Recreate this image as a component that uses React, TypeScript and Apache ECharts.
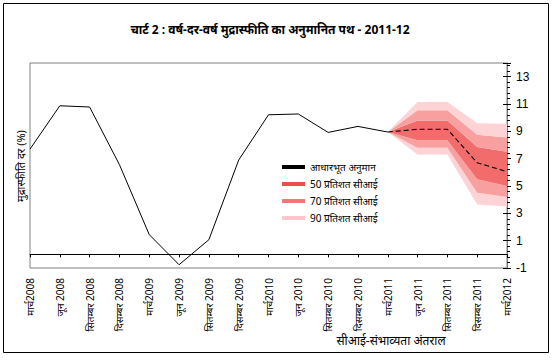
import React, { useEffect, useRef } from "react";
import * as echarts from "echarts";

const categories = [
  "मार्च2008", "जून 2008", "सितम्बर 2008", "दिसम्बर 2008",
  "मार्च2009", "जून 2009", "सितम्बर 2009", "दिसम्बर 2009",
  "मार्च2010", "जून 2010", "सितम्बर 2010", "दिसम्बर 2010",
  "मार्च2011", "जून 2011", "सितम्बर 2011", "दिसम्बर 2011", "मार्च2012",
];

const actual: (number | string)[] = [7.7, 10.87, 10.78, 6.56, 1.44, -0.76, 1.07, 6.9, 10.21, 10.27, 8.92, 9.36, 8.95, "-", "-", "-", "-"];
const baseline: (number | string)[] = ["-", "-", "-", "-", "-", "-", "-", "-", "-", "-", "-", "-", 8.95, 9.15, 9.15, 6.7, 6.05];

// fan chart bounds from Mar 2011 (index 12) to Mar 2012
const ci90Low = [8.95, 7.3, 7.3, 3.65, 3.5];
const ci70Low = [8.95, 7.8, 7.8, 4.5, 4.2];
const ci50Low = [8.95, 8.35, 8.35, 5.5, 5.0];
const ci50High = [8.95, 9.8, 9.8, 7.85, 7.5];
const ci70High = [8.95, 10.55, 10.55, 8.75, 8.55];
const ci90High = [8.95, 11.15, 11.15, 9.6, 9.55];

const yTicks = [-1, 1, 3, 5, 7, 9, 11, 13];

const FAN_START = 12;

const NAME_BASE = "आधारभूत अनुमान";
const NAME_50 = "50 प्रतिशत सीआई";
const NAME_70 = "70 प्रतिशत सीआई";
const NAME_90 = "90 प्रतिशत सीआई";

const C90 = "#FDD3D6";
const C70 = "#F8A0A0";
const C50 = "#F36C6C";

const FONT = "'Noto Sans', 'DejaVu Sans', sans-serif";

function pad(arr: number[]): (number | string)[] {
  const out: (number | string)[] = [];
  for (let i = 0; i < FAN_START; i++) out.push("-");
  return out.concat(arr.map((v) => Math.round(v * 1000) / 1000));
}
function diff(a: number[], b: number[]): number[] {
  return a.map((v, i) => v - b[i]);
}

export default function App() {
  const ref = useRef<HTMLDivElement>(null);
  useEffect(() => {
    if (!ref.current) return;
    const chart = echarts.init(ref.current, undefined, { renderer: "svg" });
    const bandSeries = (name: string, data: (number | string)[], color: string | null) => ({
      name,
      type: "line",
      stack: "fan",
      data,
      symbol: "none",
      showSymbol: false,
      silent: true,
      lineStyle: { width: 0, opacity: 0 },
      itemStyle: { color: color || "transparent" },
      areaStyle: color ? { color, opacity: 1 } : undefined,
      z: 1,
    });
    chart.setOption({
      animation: false,
      textStyle: { fontFamily: FONT },
      graphic: [
        {
          type: "rect",
          shape: { x: 3.5, y: 3.5, width: 545, height: 349 },
          style: { fill: "none", stroke: "#000", lineWidth: 1 },
          silent: true,
        },
        {
          type: "text",
          x: 270,
          y: 29,
          style: {
            text: "चार्ट 2 : वर्ष-दर-वर्ष मुद्रास्फीति का अनुमानित पथ - 2011-12",
            align: "center",
            verticalAlign: "middle",
            font: `bold 12px ${FONT}`,
            fill: "#000",
          },
        },
        {
          type: "text",
          x: 20,
          y: 166,
          rotation: Math.PI / 2,
          style: {
            text: "मुद्रास्फीति दर (%)",
            align: "center",
            verticalAlign: "middle",
            font: `11px ${FONT}`,
            fill: "#000",
          },
        },
        {
          type: "text",
          x: 391,
          y: 340,
          style: {
            text: "सीआई-संभाव्यता अंतराल",
            align: "center",
            verticalAlign: "middle",
            font: `12px ${FONT}`,
            fill: "#000",
          },
        },
      ],
      legend: {
        orient: "vertical",
        left: 277,
        top: 157,
        icon: "rect",
        itemWidth: 23,
        itemHeight: 4,
        itemGap: 7,
        selectedMode: false,
        textStyle: { fontSize: 10, color: "#000", fontFamily: FONT },
        data: [
          { name: NAME_BASE, itemStyle: { color: "#000" } },
          { name: NAME_50, itemStyle: { color: "#EE4B4B" } },
          { name: NAME_70, itemStyle: { color: "#F27777" } },
          { name: NAME_90, itemStyle: { color: "#FFC6CC" } },
        ],
      },
      grid: { left: 30, right: 46, top: 63, bottom: 92, show: true, borderColor: "#808080", borderWidth: 1, backgroundColor: "transparent" },
      xAxis: [
        {
          type: "category",
          data: categories,
          boundaryGap: false,
          position: "bottom",
          axisLine: { show: false, onZero: false },
          axisTick: { show: false },
          splitLine: { show: false },
          axisLabel: { rotate: 90, fontSize: 10, color: "#000", margin: 10, interval: 0, fontFamily: FONT },
        },
        {
          type: "category",
          data: categories,
          boundaryGap: false,
          position: "bottom",
          axisLine: { show: true, onZero: true, lineStyle: { color: "#000", width: 1 } },
          axisTick: { show: true, length: 3, inside: false, interval: 0, lineStyle: { color: "#000" } },
          axisLabel: { show: false },
          splitLine: { show: false },
        },
      ],
      yAxis: [
        {
          type: "value",
          position: "right",
          min: -1,
          max: 14,
          interval: 2,
          axisLine: { show: true, lineStyle: { color: "#808080" } },
          axisTick: { show: true, length: 4, lineStyle: { color: "#000" } },
          minorTick: { show: true, splitNumber: 5, length: 3, lineStyle: { color: "#000" } },
          splitLine: { show: false },
          axisLabel: {
            fontSize: 12,
            color: "#000",
            margin: 9,
            fontFamily: "'Liberation Sans', Arial, sans-serif",
            formatter: (v: number) => (yTicks.indexOf(v) >= 0 ? String(v) : ""),
          },
        },
        {
          type: "value",
          position: "right",
          min: -1,
          max: 14,
          interval: 2,
          axisLine: { show: false },
          axisTick: { show: true, inside: true, length: 4, lineStyle: { color: "#000" } },
          splitLine: { show: false },
          axisLabel: { show: false },
        },
      ],
      series: [
        bandSeries("_base", pad(ci90Low), null),
        bandSeries(NAME_90, pad(diff(ci70Low, ci90Low)), C90),
        bandSeries(NAME_70, pad(diff(ci50Low, ci70Low)), C70),
        bandSeries(NAME_50, pad(diff(ci50High, ci50Low)), C50),
        bandSeries(NAME_70, pad(diff(ci70High, ci50High)), C70),
        bandSeries(NAME_90, pad(diff(ci90High, ci70High)), C90),
        {
          name: "_actual",
          type: "line",
          data: actual,
          symbol: "none",
          lineStyle: { color: "#000", width: 1 },
          itemStyle: { color: "#000" },
          z: 5,
        },
        {
          name: NAME_BASE,
          type: "line",
          data: baseline,
          symbol: "none",
          lineStyle: { color: "#000", width: 1.1, type: [5, 3] },
          itemStyle: { color: "#000" },
          z: 5,
        },
      ],
    });
    return () => chart.dispose();
  }, []);
  return <div ref={ref} style={{ position: "absolute", left: 0, top: 0, width: 553, height: 360 }} />;
}
